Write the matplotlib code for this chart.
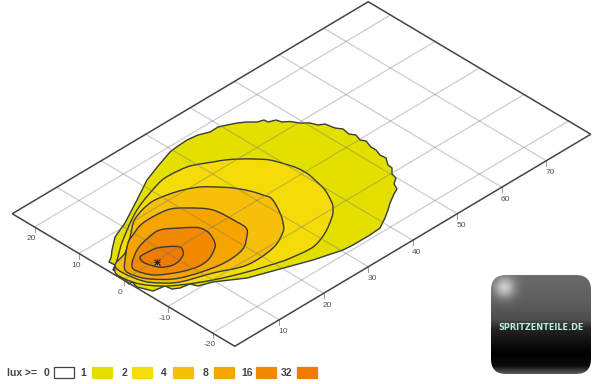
#!/usr/bin/env python3
"""Lux isolines on the road plane, drawn in a skewed projection."""

import matplotlib
matplotlib.use("Agg")
import matplotlib.pyplot as plt
import numpy as np
from matplotlib.patches import FancyBboxPatch, PathPatch, Polygon, Rectangle
from matplotlib.path import Path
from matplotlib.transforms import Affine2D

plt.rcParams["font.family"] = ["Liberation Sans", "DejaVu Sans"]

# contours as (distance, lateral) in metres, lowest level first
LUX_1 = [(2.75, 5.56), (4.37, 6.95), (7.16, 9.07), (10.92, 10.59), (16.61, 13.58), (21.51, 16.23),
         (25.39, 17.63), (29.38, 18.93), (31.41, 19.16), (33.55, 19.28), (35.73, 18.99),
         (37.64, 18.2), (39.49, 18.25), (40.87, 17.61), (42.38, 16.87), (43.69, 15.93), (44.81, 14.81),
         (45.97, 14.4), (46.05, 13.57), (47.32, 13.05), (47.62, 12.0), (48.61, 11.2), (49.45, 9.79),
         (50.58, 8.67), (51.1, 7.39), (52.07, 6.79), (52.44, 4.92), (53.15, 3.83), (52.88, 2.21),
         (53.48, 1.23), (52.99, -0.16), (53.47, -1.02), (52.9, -2.71), (52.9, -3.84), (52.4, -5.23),
         (52.51, -6.47), (51.42, -8.02), (51.3, -9.04), (50.17, -10.17), (49.86, -11.37), (48.51, -12.28),
         (47.9, -13.56), (46.62, -14.17), (44.47, -15.42), (42.93, -16.51), (41.08, -17.68), (38.63, -19.01),
         (36.19, -19.2), (32.39, -19.18), (30.33, -19.0), (25.07, -17.52), (19.66, -15.51), (14.25, -13.5),
         (9.68, -10.43), (7.24, -9.5), (6.72, -8.23), (4.84, -7.86), (3.75, -7.15), (3.54, -5.8),
         (1.24, -5.39), (0.2, -2.83), (0.58, -1.33), (-0.14, -1.37), (0.32, 0.43), (0.17, 0.96),
         (0.78, 2.24), (0.71, 3.07), (1.88, 3.79), (1.77, 5.03)]
LUX_2 = [(3.72, 4.96), (7.49, 7.6), (14.73, 11.7), (21.99, 14.24), (25.04, 14.59), (28.46, 14.19),
         (30.48, 13.29), (32.32, 12.21), (34.04, 11.24), (35.92, 9.74), (37.6, 8.05), (39.1, 6.18),
         (40.03, 3.74), (40.63, 1.64), (40.73, -0.73), (40.23, -3.25), (39.62, -5.66), (37.96, -8.9),
         (36.75, -10.33), (35.31, -11.54), (31.51, -13.77), (27.52, -15.07), (23.39, -14.7), (20.98, -14.19),
         (15.39, -12.37), (10.06, -10.06), (5.41, -7.3), (2.97, -5.23), (1.1, -2.61), (0.36, 0.02),
         (0.56, 2.47)]
LUX_4 = [(1.88, 3.79), (5.27, 4.93), (8.85, 7.38), (12.8, 10.22), (17.51, 11.55), (20.93, 11.15),
         (23.67, 10.3), (26.14, 8.95), (28.05, 7.04), (29.66, 5.06), (31.0, 2.58), (31.71, 0.37),
         (31.97, -1.4), (30.23, -4.94), (28.68, -7.17), (26.98, -8.86), (22.84, -10.76), (16.71, -11.05),
         (11.38, -8.74), (5.97, -6.73), (3.54, -4.67), (2.0, -2.38), (1.27, 1.38)]
LUX_8 = [(3.94, 3.6), (7.49, 6.48), (9.56, 7.43), (12.95, 8.57), (18.1, 8.32), (20.72, 6.45),
         (23.26, 3.15), (23.7, -1.81), (23.58, -3.96), (22.37, -5.39), (18.98, -7.66), (13.68, -8.01),
         (6.73, -5.97), (3.17, -2.79), (2.01, -0.12), (2.06, 1.72)]
LUX_16 = [(3.41, 1.5), (7.18, 4.14), (10.68, 5.17), (13.54, 5.34), (16.16, 3.46), (17.38, 2.43),
          (18.41, 1.22), (18.48, -0.74), (17.26, -3.3), (15.83, -4.51), (13.27, -5.72), (10.72, -5.81),
          (7.86, -4.84), (4.71, -2.82), (3.51, -0.87)]
LUX_32 = [(6.2, 2.49), (8.04, 2.53), (9.8, 2.27), (11.55, 1.1), (12.58, -0.13), (12.16, -1.21),
          (11.4, -1.97), (9.82, -2.65), (8.39, -2.73), (7.12, -2.21), (6.33, -1.42), (5.81, -0.15),
          (5.59, 1.21)]
CONTOURS = [LUX_1, LUX_2, LUX_4, LUX_8, LUX_16, LUX_32]
PEAK = (7.2, -0.3)

LEVELS = ["0", "1", "2", "4", "8", "16", "32"]
LEVEL_COLORS = ["white", "#e3e000", "#f5dc08", "#f6bf0a", "#f6a400", "#f18a00", "#ef7b00"]
X_TICKS = [10, 20, 30, 40, 50, 60, 70]
Y_TICKS = [-20, -10, 0, 10, 20]


def curved_path(pts):
    # closed Catmull-Rom through the read points, as cubic beziers
    p = np.array(pts, dtype=float)
    n = len(p)
    verts = [p[0]]
    codes = [Path.MOVETO]
    for i in range(n):
        p0, p1, p2, p3 = p[i - 1], p[i], p[(i + 1) % n], p[(i + 2) % n]
        verts += [p1 + (p2 - p0) / 6, p2 - (p3 - p1) / 6, p2]
        codes += [Path.CURVE4] * 3
    return Path(verts, codes)


fig = plt.figure(figsize=(6.0, 3.84), dpi=100)
ax = fig.add_axes([0, 0, 1, 1])

# road plane -> pixel coordinates
plane = Affine2D.from_values(4.45, -2.65, -4.45, -2.65, 123.5, 280)
road = plane + ax.transData

# outermost contour stays jagged, the inner ones are drawn curved
ax.add_patch(Polygon(LUX_1, closed=True, facecolor=LEVEL_COLORS[1], edgecolor="#3a3a3a",
                     linewidth=1.0, joinstyle="round", transform=road, zorder=2))
for pts, col in zip(CONTOURS[1:], LEVEL_COLORS[2:]):
    ax.add_patch(PathPatch(curved_path(pts), facecolor=col, edgecolor="#3a3a3a",
                           linewidth=1.0, transform=road, zorder=2))

# grid goes over the fills, faint
for x in X_TICKS:
    ax.plot([x, x], [-25, 25], color="#707070", alpha=0.35, lw=0.9, transform=road, zorder=3)
for y in Y_TICKS:
    ax.plot([0, 80], [y, y], color="#707070", alpha=0.35, lw=0.9, transform=road, zorder=3)

ax.add_patch(Rectangle((0, -25), 80, 50, fill=False, edgecolor="#444444", lw=1.1,
                       transform=road, zorder=4))

for x in X_TICKS:
    px, py = plane.transform((x, -25))
    ax.plot([px, px], [py, py + 5], color="#999999", lw=0.7, zorder=3)
    ax.annotate(str(x), (px, py), xytext=(4, -12), textcoords="offset pixels", fontsize=6,
                color="#555555", ha="center", va="center")
for y in Y_TICKS:
    px, py = plane.transform((0, y))
    ax.plot([px, px], [py, py + 5], color="#999999", lw=0.7, zorder=3)
    ax.annotate(str(y), (px, py), xytext=(-3, -12), textcoords="offset pixels", fontsize=6,
                color="#555555", ha="center", va="center")

ax.plot(*plane.transform(PEAK), marker="x", ms=4, mew=0.8, color="#222222", zorder=6)
ax.plot(*plane.transform(PEAK), marker="+", ms=5, mew=0.6, color="#222222", zorder=6)

# legend strip along the bottom
ax.text(7, 372.5, "lux >=", fontsize=7.5, fontweight="bold", color="#444444", va="center")
label_x = [46, 83, 124, 164, 206, 247, 287]
box_x = [54, 92, 132, 173, 214, 256, 297]
for lab, col, lx, bx in zip(LEVELS, LEVEL_COLORS, label_x, box_x):
    ax.text(lx, 372.5, lab, fontsize=7.5, fontweight="bold", color="#444444", ha="center", va="center")
    edge = "#444444" if lab == "0" else col
    ax.add_patch(Rectangle((bx, 367), 20, 11, facecolor=col, edgecolor=edge, lw=0.9))

# shop logo bottom right
rows = np.interp(np.linspace(0, 1, 100), [0, 0.3, 0.45, 0.55, 0.8, 0.92, 1],
                 [0.42, 0.36, 0.3, 0.14, 0.0, 0.05, 0.35])
grad = np.repeat(rows[:, None], 100, axis=1)
yy, xx = np.mgrid[0:100, 0:100]
grad = np.clip(grad + 0.4 * np.exp(-((xx - 13) ** 2 + (yy - 12) ** 2) / 110.0), 0, 1)
im = ax.imshow(grad, extent=(491, 591, 374, 275), cmap="gray", vmin=0, vmax=1, zorder=5, aspect="auto")
clip = FancyBboxPatch((491, 275), 100, 99, boxstyle="round,pad=0,rounding_size=15", fc="none", ec="none",
                      transform=ax.transData)
ax.add_patch(clip)
im.set_clip_path(clip)
ax.text(541, 327, "SPRITZENTEILE.DE", fontsize=6.5, fontweight="bold", color="#b5efe2",
        ha="center", va="center", zorder=7, family=["DejaVu Sans"], fontstretch="condensed")

ax.set_xlim(0, 600)
ax.set_ylim(384, 0)
ax.axis("off")

fig.savefig("out.png", dpi=100)
